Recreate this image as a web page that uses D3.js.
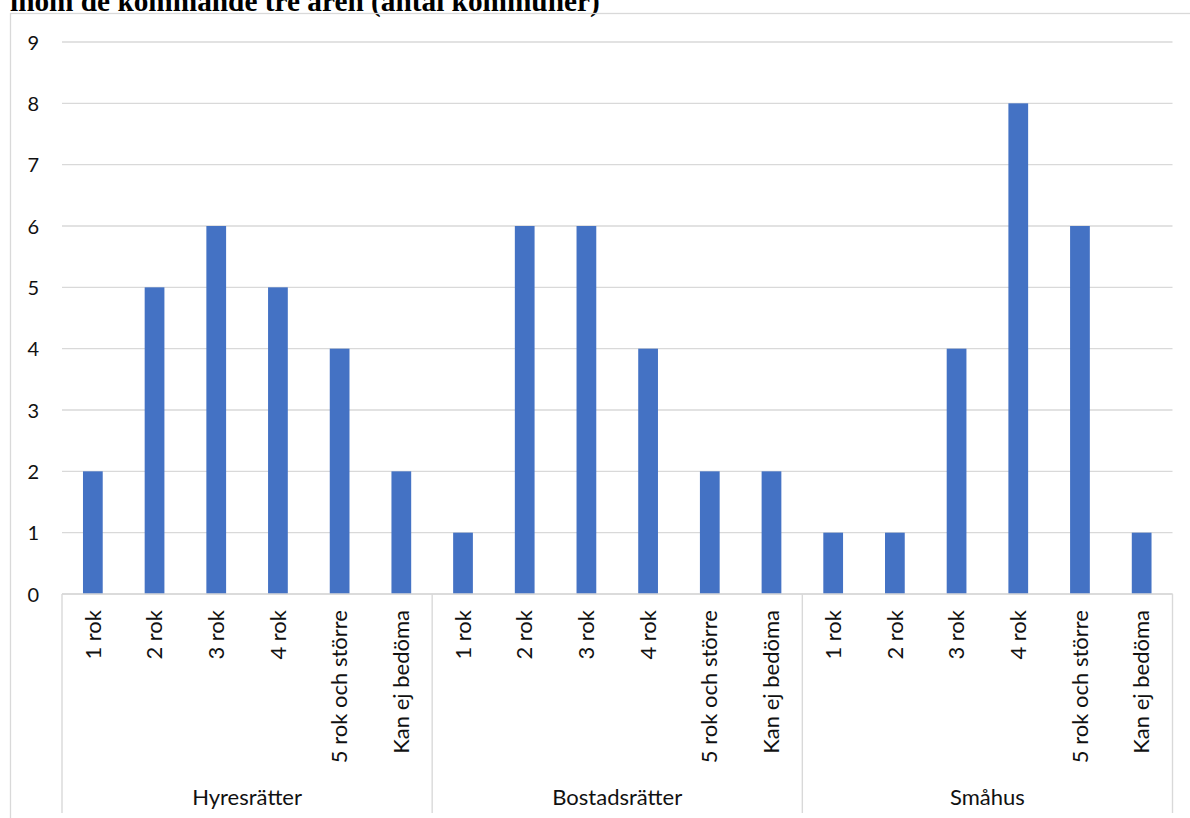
<!DOCTYPE html>
<html><head><meta charset="utf-8">
<script src="https://cdn.jsdelivr.net/npm/d3@7"></script>
<style>html,body{margin:0;padding:0;background:#fff;overflow:hidden}</style>
</head><body>
<svg id="c" width="1190" height="818"></svg>
<script>
const title = "inom de kommande tre åren (antal kommuner)";
const groups = ["Hyresrätter", "Bostadsrätter", "Småhus"];
const sizes = ["1 rok", "2 rok", "3 rok", "4 rok", "5 rok och större", "Kan ej bedöma"];
const hyresratter = [2, 5, 6, 5, 4, 2];
const bostadsratter = [1, 6, 6, 4, 2, 2];
const smahus = [1, 1, 4, 8, 6, 1];
const yTicks = [0, 1, 2, 3, 4, 5, 6, 7, 8, 9];

const seriesByGroup = [hyresratter, bostadsratter, smahus];
const rows = [];
groups.forEach((g, gi) => sizes.forEach((s, si) => rows.push({g, s, key: g + "|" + s, v: seriesByGroup[gi][si]})));

const svg = d3.select("#c");
const L = 62, R = 1172.5, T = 42, B = 594;
const gridCol = "#d9d9d9", textCol = "#111";
const font = "Lato, 'Noto Sans', sans-serif";

// title (cut off at top)
svg.append("text").attr("x", 10).attr("y", 11)
  .attr("font-family", "'Liberation Serif', 'Times New Roman', serif")
  .attr("font-weight", "bold").attr("font-size", 29.3).attr("fill", "#000")
  .text(title);

// chart border
svg.append("rect").attr("x", 10.5).attr("y", 13.5).attr("width", 1200).attr("height", 900)
  .attr("fill", "none").attr("stroke", gridCol).attr("stroke-width", 1.3);

const x = d3.scaleBand().domain(rows.map(d => d.key)).range([L, R]).paddingInner(0.68).paddingOuter(0.34);
const y = d3.scaleLinear().domain([0, 9]).range([B, T]);

// gridlines
svg.append("g").selectAll("line").data(yTicks).join("line")
  .attr("x1", L).attr("x2", R).attr("y1", d => y(d)).attr("y2", d => y(d))
  .attr("stroke", gridCol).attr("stroke-width", 1.4);

// y axis labels
const yAxis = d3.axisLeft(y).tickValues(yTicks).tickSize(0).tickPadding(0).tickFormat(d3.format("d"));
const ya = svg.append("g").attr("transform", `translate(39,0)`).call(yAxis);
ya.select(".domain").remove();
ya.selectAll("text").attr("font-family", font).attr("font-size", 20).attr("fill", textCol).attr("dy", "0.35em");

// bars
svg.append("g").selectAll("rect").data(rows).join("rect")
  .attr("x", d => x(d.key)).attr("width", x.bandwidth())
  .attr("y", d => y(d.v)).attr("height", d => y(0) - y(d.v))
  .attr("fill", "#4472C4");

// category labels (rotated)
const xa = d3.axisBottom(x).tickSize(0).tickFormat(k => k.split("|")[1]);
const xg = svg.append("g").attr("transform", `translate(0,${B})`).call(xa);
xg.select(".domain").remove();
xg.selectAll("text").attr("font-family", font).attr("font-size", 22).attr("fill", textCol)
  .attr("transform", "rotate(-90)").attr("text-anchor", "end")
  .attr("x", -16).attr("y", 0).attr("dy", "0.35em");

// axis line
svg.append("line").attr("x1", L).attr("x2", R).attr("y1", B).attr("y2", B)
  .attr("stroke", gridCol).attr("stroke-width", 1.4);

// group separators
const gStep = (R - L) / groups.length;
const seps = d3.range(groups.length + 1).map(i => L + i * gStep);
svg.append("g").selectAll("line").data(seps).join("line")
  .attr("x1", d => d).attr("x2", d => d).attr("y1", B).attr("y2", 813)
  .attr("stroke", gridCol).attr("stroke-width", 1.4);

// group labels
svg.append("g").selectAll("text").data(groups).join("text")
  .attr("x", (d, i) => L + (i + 0.5) * gStep).attr("y", 805)
  .attr("text-anchor", "middle").attr("font-family", font).attr("font-size", 22).attr("fill", textCol)
  .text(d => d);
</script>
</body></html>
